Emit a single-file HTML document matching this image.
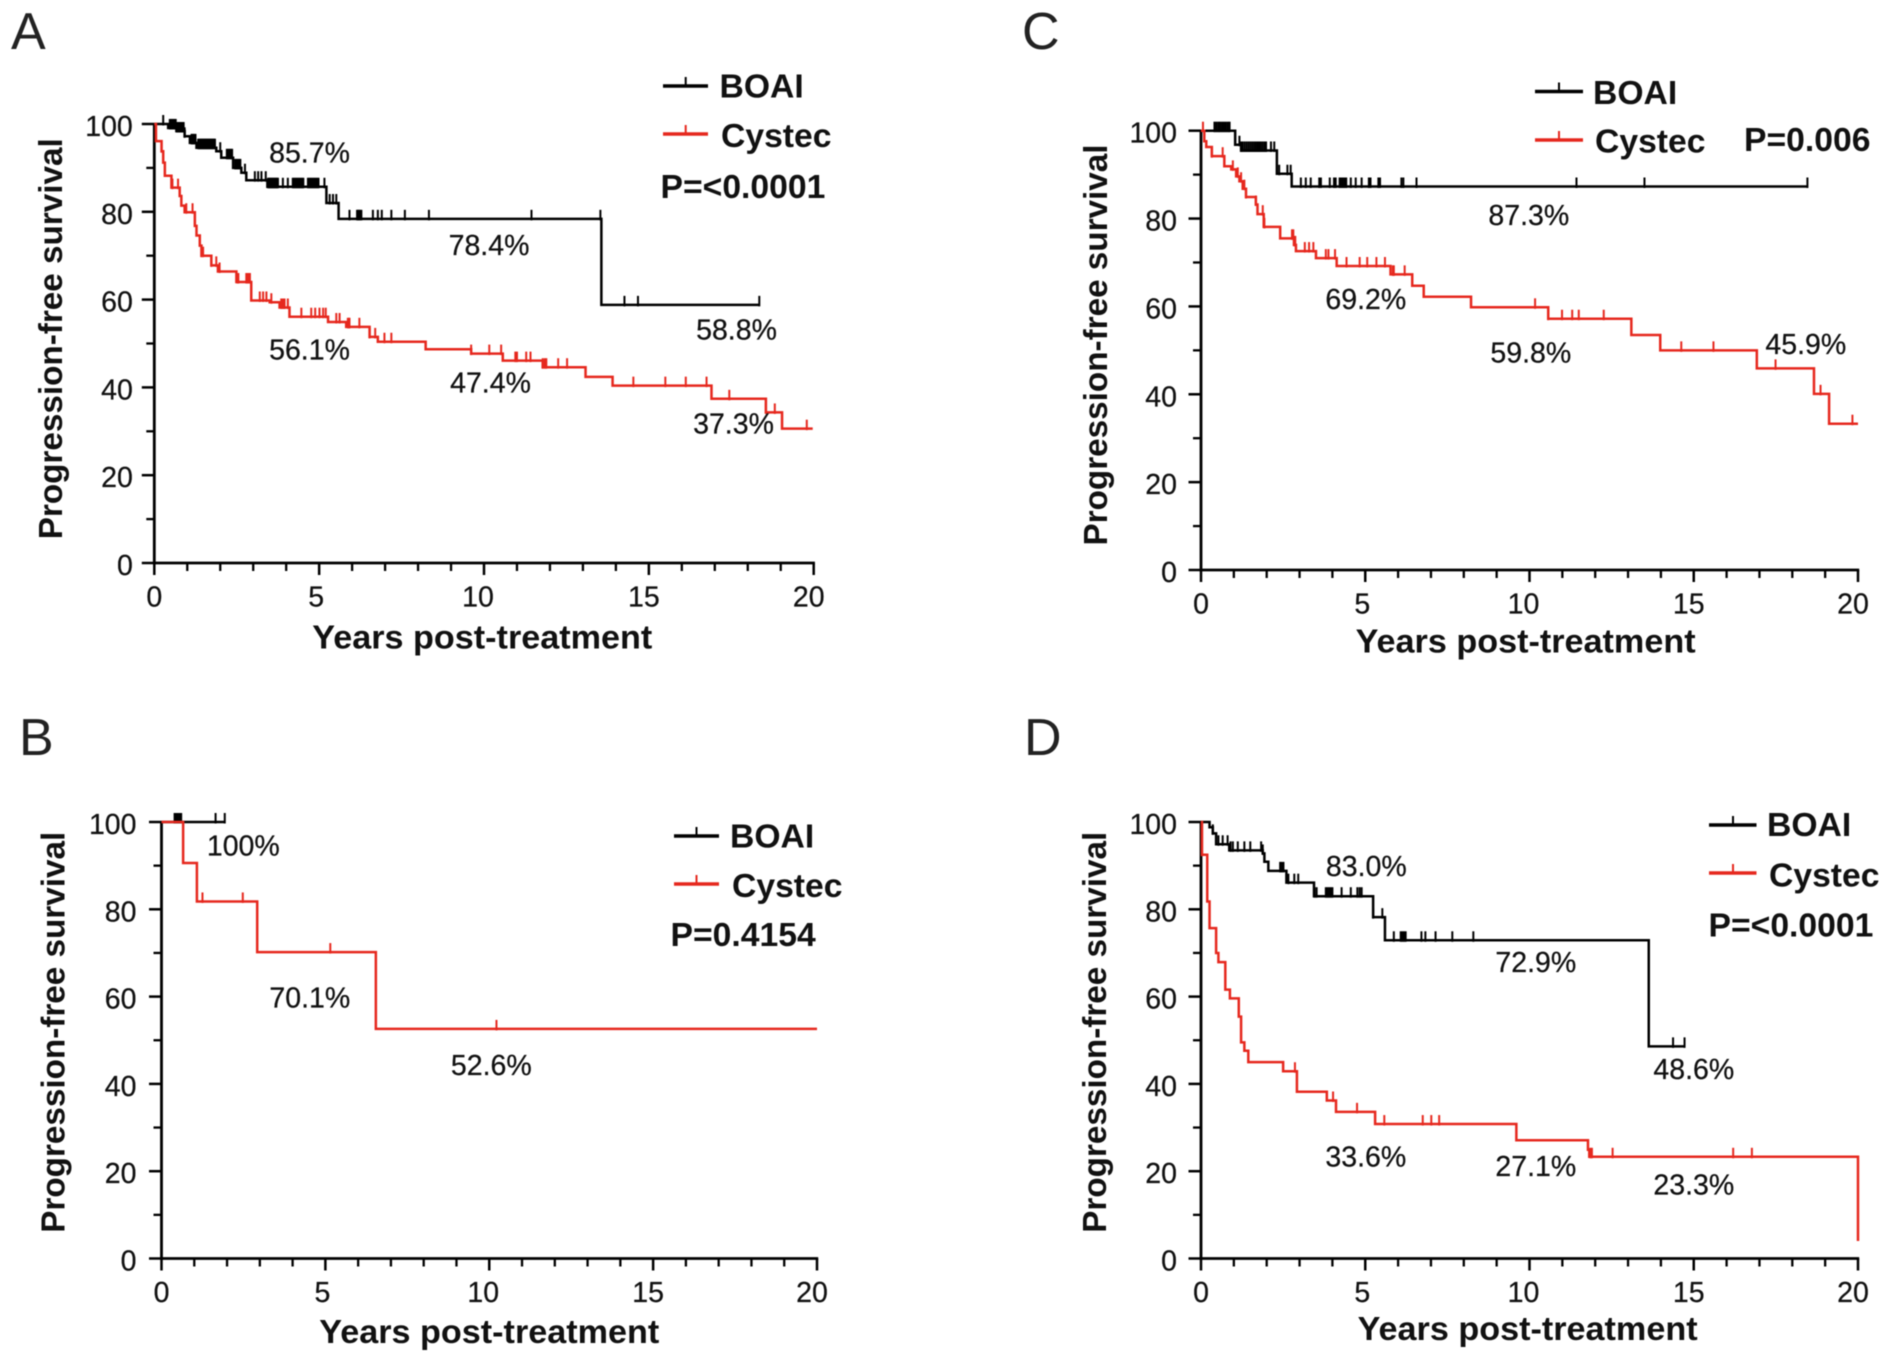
<!DOCTYPE html>
<html lang="en">
<head>
<meta charset="utf-8">
<title>Progression-free survival Kaplan-Meier curves</title>
<style>
html,body{margin:0;padding:0;background:#fff;width:1890px;height:1364px;overflow:hidden}
svg{display:block;filter:blur(0.45px)}
text{font-family:"Liberation Sans",Arial,sans-serif;fill:#111}
.stat,.tick-label{font-size:28.5px;stroke:#111;stroke-width:.25px}
.legend{font-size:33.7px;font-weight:bold}
.title{font-size:33.5px;font-weight:bold}
.letter{font-size:52px;fill:#222}
</style>
</head>
<body>
<svg id="figure" xmlns="http://www.w3.org/2000/svg" width="1890" height="1364" viewBox="0 0 1890 1364">
  <rect width="1890" height="1364" fill="#fff"/>

  <text class="letter" x="11" y="49">A</text>
  <text class="letter" x="19" y="755">B</text>
  <text class="letter" x="1022" y="49">C</text>
  <text class="letter" x="1024" y="755">D</text>

  <g id="plots"></g>

  <!-- Panel A labels -->
  <g text-anchor="middle" transform="translate(-1.5 -2.4)">
    <text class="stat" x="311" y="165">85.7%</text>
    <text class="stat" x="490.5" y="257.5">78.4%</text>
    <text class="stat" x="738" y="342">58.8%</text>
    <text class="stat" x="311" y="362">56.1%</text>
    <text class="stat" x="492" y="395">47.4%</text>
    <text class="stat" x="735" y="436">37.3%</text>
  </g>
  <g>
    <line x1="663" x2="708" y1="86" y2="86" stroke="#000" stroke-width="3.6"/>
    <line x1="685.7" x2="685.7" y1="86" y2="77" stroke="#000" stroke-width="2"/>
    <line x1="663" x2="708" y1="134" y2="134" stroke="#e6281e" stroke-width="3.6"/>
    <line x1="685.7" x2="685.7" y1="134" y2="125" stroke="#e6281e" stroke-width="2"/>
    <text class="legend" x="719.5" y="97.5">BOAI</text>
    <text class="legend" x="721" y="147">Cystec</text>
    <text class="legend" x="660.5" y="198">P=&lt;0.0001</text>
  </g>

  <!-- Panel B labels -->
  <g text-anchor="middle" transform="translate(-1.2 -1.8)">
    <text class="stat" x="244.5" y="857.5">100%</text>
    <text class="stat" x="311" y="1009.5">70.1%</text>
    <text class="stat" x="492.5" y="1077">52.6%</text>
  </g>
  <g>
    <line x1="674" x2="719" y1="836" y2="836" stroke="#000" stroke-width="3.6"/>
    <line x1="696.5" x2="696.5" y1="836" y2="827" stroke="#000" stroke-width="2"/>
    <line x1="674" x2="719" y1="884" y2="884" stroke="#e6281e" stroke-width="3.6"/>
    <line x1="696.5" x2="696.5" y1="884" y2="875" stroke="#e6281e" stroke-width="2"/>
    <text class="legend" x="730" y="847.5">BOAI</text>
    <text class="legend" x="732" y="897">Cystec</text>
    <text class="legend" x="670.5" y="946">P=0.4154</text>
  </g>

  <!-- Panel C labels -->
  <g text-anchor="middle" transform="translate(-1.2 -2)">
    <text class="stat" x="1530" y="227">87.3%</text>
    <text class="stat" x="1367" y="311">69.2%</text>
    <text class="stat" x="1532" y="364.5">59.8%</text>
    <text class="stat" x="1807" y="356">45.9%</text>
  </g>
  <g>
    <line x1="1535" x2="1583" y1="91.5" y2="91.5" stroke="#000" stroke-width="3.6"/>
    <line x1="1559" x2="1559" y1="91.5" y2="82.5" stroke="#000" stroke-width="2"/>
    <line x1="1535" x2="1583" y1="140" y2="140" stroke="#e6281e" stroke-width="3.6"/>
    <line x1="1559" x2="1559" y1="140" y2="131" stroke="#e6281e" stroke-width="2"/>
    <text class="legend" x="1593" y="104">BOAI</text>
    <text class="legend" x="1595" y="152.5">Cystec</text>
    <text class="legend" x="1744" y="151">P=0.006</text>
  </g>

  <!-- Panel D labels -->
  <g text-anchor="middle" transform="translate(-1.2 -2.4)">
    <text class="stat" x="1367.5" y="878.5">83.0%</text>
    <text class="stat" x="1537" y="974.5">72.9%</text>
    <text class="stat" x="1695" y="1081.5">48.6%</text>
    <text class="stat" x="1367" y="1169">33.6%</text>
    <text class="stat" x="1537" y="1178.5">27.1%</text>
    <text class="stat" x="1695" y="1197">23.3%</text>
  </g>
  <g>
    <line x1="1709" x2="1756.5" y1="825" y2="825" stroke="#000" stroke-width="3.6"/>
    <line x1="1733" x2="1733" y1="825" y2="816" stroke="#000" stroke-width="2"/>
    <line x1="1709" x2="1756.5" y1="873" y2="873" stroke="#e6281e" stroke-width="3.6"/>
    <line x1="1733" x2="1733" y1="873" y2="864" stroke="#e6281e" stroke-width="2"/>
    <text class="legend" x="1767" y="836">BOAI</text>
    <text class="legend" x="1769" y="886.5">Cystec</text>
    <text class="legend" x="1708.5" y="936.5">P=&lt;0.0001</text>
  </g>
</svg>

<script>
// Tick labels
const xTickLabels = [0, 5, 10, 15, 20];
const yTickLabels = [0, 20, 40, 60, 80, 100];
const xMinorValues = [1,2,3,4,6,7,8,9,11,12,13,14,16,17,18,19];
const yMinorValues = [10,30,50,70,90];

// Panel A — steps: at time t[i] survival falls to s[i]
const aBoaiTimes = [0.42,0.67,0.92,1.08,1.28,1.88,2.03,2.39,2.64,2.79,3.43,5.22,5.59,13.56,18.35];
const aBoaiSurv  = [99.1,98.4,97.2,95.7,94.6,93.8,92.3,90,88.9,87.2,85.7,82,78.4,58.8,58.8];
const aBoaiCensor = [0.27,0.47,0.5,0.53,0.56,0.59,0.62,0.65,0.68,0.71,0.74,0.77,0.8,0.83,0.86,0.89,0.92,1.13,1.17,1.2,1.25,1.33,1.36,1.39,1.42,1.45,1.48,1.51,1.54,1.57,1.6,1.63,1.66,1.69,1.72,1.75,1.78,1.81,1.84,2.0,2.2,2.24,2.28,2.32,2.36,2.45,2.49,2.53,2.57,2.61,2.75,3.05,3.15,3.25,3.38,3.45,3.48,3.51,3.54,3.57,3.6,3.63,3.66,3.69,3.72,3.75,3.9,4.05,4.2,4.24,4.28,4.32,4.36,4.4,4.44,4.48,4.52,4.66,4.7,4.74,4.78,4.82,4.86,4.9,4.94,4.98,5.16,5.32,5.42,5.52,5.92,6.15,6.18,6.21,6.24,6.28,6.63,6.78,6.9,7.19,7.6,8.33,11.44,13.53,14.26,14.67,18.35];
const aCystecTimes = [0.05,0.22,0.27,0.32,0.52,0.77,0.82,0.92,1.23,1.28,1.38,1.43,1.73,1.93,2.49,2.94,3.5,3.8,4.1,5.27,5.82,6.53,6.78,8.23,9.61,10.57,11.78,13.08,13.9,16.9,18.55,19.04,19.97];
const aCystecSurv  = [96.1,93.8,91.2,88.2,85.5,83.6,81.4,79.9,76.8,74.6,72.3,70,67.8,66.4,64,59.8,59.4,58.2,56.1,54.9,53.8,51.5,50.4,48.7,47.7,46.1,44.6,42.4,40.4,37.4,34.3,30.6,30.6];
const aCystecCensor = [0.22,0.55,0.72,0.97,1.16,1.43,1.48,1.73,1.88,1.98,2.52,2.55,2.79,2.82,2.85,2.88,2.9,3.2,3.3,3.4,3.55,3.85,3.88,3.92,3.95,4.05,4.46,4.76,4.88,5.01,5.12,5.2,5.52,5.62,5.87,5.9,5.92,6.22,6.53,6.7,6.98,7.19,9.61,10.16,10.52,10.95,11,11.28,11.41,11.78,11.84,11.89,12.25,12.52,14.53,15.5,16.12,16.75,17.44,18.55,18.82,19.79];

// Panel B
const bBoaiTimes = [1.93];
const bBoaiSurv  = [100];
const bBoaiCensor = [0.4,0.45,0.5,0.55,0.6,1.65,1.93];
const bCystecTimes = [0.66,1.08,2.92,6.54,20];
const bCystecSurv  = [90.6,81.8,70.2,52.6,52.6];
const bCystecCensor = [1.25,2.48,5.15,10.22];

// Panel C
const cBoaiTimes = [1.04,1.22,2.31,2.76,18.46];
const cBoaiSurv  = [96.8,95.5,90.2,87.3,87.3];
const cBoaiCensor = [0.41,0.47,0.53,0.58,0.64,0.7,0.76,0.82,0.87,1.17,1.22,1.27,1.33,1.39,1.45,1.51,1.57,1.63,1.69,1.75,1.81,1.87,1.93,1.98,2.13,2.23,2.38,2.63,2.73,3.04,3.19,3.34,3.6,3.65,3.92,4.05,4.1,4.22,4.27,4.32,4.37,4.42,4.56,4.71,4.89,5.11,5.16,5.4,5.45,6.1,6.16,6.56,11.43,13.5,18.46];
const cCystecTimes = [0.1,0.16,0.33,0.71,0.92,1.07,1.17,1.27,1.37,1.67,1.72,1.91,2.41,2.83,2.89,3.5,4.13,5.77,6.43,6.78,8.22,10.57,13.1,13.98,16.92,18.66,19.12,20];
const cCystecSurv  = [97.6,96.3,94.2,91.9,91.2,89.6,88.5,86.8,84.9,83.2,81,78.1,75.5,74,72.6,71,69.2,67.3,64.7,62.2,59.8,57.2,53.5,50,45.9,40.1,33.3,33.3];
const cCystecCensor = [0.06,0.33,0.66,0.97,1.12,1.22,1.32,1.37,1.67,1.88,1.93,2.77,2.81,2.85,2.87,3.16,3.29,3.42,3.8,3.88,4.08,4.43,4.83,5.06,5.34,5.6,5.84,5.87,6.2,10.17,10.57,10.99,11.3,11.5,12.26,14.62,15.6,17.49,18.86,19.83];

// Panel D
const dBoaiTimes = [0.26,0.36,0.46,0.86,1.88,1.93,2.05,2.6,3.44,5.24,5.6,13.63,14.72];
const dBoaiSurv  = [98.8,97.4,94.9,93.5,92.8,90.9,88.8,86.1,83,78.2,72.9,48.6,48.6];
const dBoaiCensor = [0.36,0.53,0.66,0.81,0.9,0.97,1.12,1.32,1.5,1.83,1.88,2.41,2.45,2.51,2.66,2.84,2.96,3.46,3.52,3.8,3.85,3.9,3.95,4,4.28,4.56,4.76,4.83,4.89,5.24,5.52,5.87,6.08,6.13,6.18,6.23,6.71,6.83,7.14,7.65,8.29,14.37,14.72];
const dCystecTimes = [0.03,0.19,0.26,0.46,0.53,0.74,0.88,1.15,1.22,1.32,1.44,2.5,2.92,3.83,4.11,5.3,9.6,11.78,11.82,20];
const dCystecSurv  = [92.5,81.8,75.7,70,67.9,61.6,59.6,55.4,49.5,47.6,45,42.9,38.2,36.2,33.6,30.8,27.1,24.9,23.3,4];
const dCystecCensor = [0.03,2.86,4.02,4.75,5.58,6.75,7.01,7.25,11.85,11.9,12.53,16.2,16.77];

// Panel geometry and series wiring
const panels = [
  {id:'a', x0:154.3, x20:813.7, y0:563,    y100:124,   labelGap:21.5, titleX:482.3,  xTitleY:648.6,  yTitleX:62,   yTitleY:338.8,  boai:[aBoaiTimes,aBoaiSurv,aBoaiCensor], cystec:[aCystecTimes,aCystecSurv,aCystecCensor]},
  {id:'b', x0:161.5, x20:817,   y0:1258.5, y100:822,   labelGap:25,   titleX:489.3,  xTitleY:1343,   yTitleX:64.5, yTitleY:1032.3, boai:[bBoaiTimes,bBoaiSurv,bBoaiCensor], cystec:[bCystecTimes,bCystecSurv,bCystecCensor]},
  {id:'c', x0:1201,  x20:1858,  y0:570,    y100:130.7, labelGap:24,   titleX:1525.6, xTitleY:652.6,  yTitleX:1107, yTitleY:345,    boai:[cBoaiTimes,cBoaiSurv,cBoaiCensor], cystec:[cCystecTimes,cCystecSurv,cCystecCensor]},
  {id:'d', x0:1201,  x20:1858,  y0:1258.5, y100:822,   labelGap:24,   titleX:1527.6, xTitleY:1339.8, yTitleX:1106, yTitleY:1032.3, boai:[dBoaiTimes,dBoaiSurv,dBoaiCensor], cystec:[dCystecTimes,dCystecSurv,dCystecCensor]}
];

const NS = 'http://www.w3.org/2000/svg';
const root = document.getElementById('plots');

function drawLine(parent, x1, y1, x2, y2, color, width, name) {
  const el = document.createElementNS(NS, 'line');
  el.setAttribute('x1', x1);
  el.setAttribute('y1', y1);
  el.setAttribute('x2', x2);
  el.setAttribute('y2', y2);
  el.setAttribute('stroke', color);
  el.setAttribute('stroke-width', width);
  
  
  parent.appendChild(el);
  return el;
}

function drawText(parent, str, x, y, anchor, cls, name) {
  const el = document.createElementNS(NS, 'text');
  el.setAttribute('x', x);
  el.setAttribute('y', y);
  el.setAttribute('text-anchor', anchor);
  el.setAttribute('class', cls);
  
  
  el.textContent = str;
  parent.appendChild(el);
  return el;
}

function survivalAt(times, surv, t) {
  let s = 100;
  for (let i = 0; i < times.length; i++) {
    if (times[i] <= t) s = surv[i];
  }
  return s;
}

function xLabelNudge(v) {
  if (v === 0) return 0;
  if (v === 5) return -3;
  if (v === 10) return -6;
  return -5;
}

function drawSeries(parent, series, xAt, yAt, color, label) {
  const times = series[0];
  const surv = series[1];
  const censor = series[2];
  const g = document.createElementNS(NS, 'g');
  
  
  parent.appendChild(g);
  let d = 'M' + xAt(0) + ' ' + yAt(100);
  for (let i = 0; i < times.length; i++) {
    d += 'H' + xAt(times[i]).toFixed(2) + 'V' + yAt(surv[i]).toFixed(2);
  }
  const path = document.createElementNS(NS, 'path');
  path.setAttribute('d', d);
  path.setAttribute('fill', 'none');
  path.setAttribute('stroke', color);
  path.setAttribute('stroke-width', '2.5');
  
  
  g.appendChild(path);
  censor.forEach(function (t) {
    const y = yAt(survivalAt(times, surv, t));
    drawLine(g, xAt(t).toFixed(2), y + 1.5, xAt(t).toFixed(2), y - 9, color, 2, label + '-censor-tick');
  });
}

panels.forEach(function (p) {
  const xAt = function (t) { return p.x0 + (p.x20 - p.x0) * t / 20; };
  const yAt = function (s) { return p.y0 - (p.y0 - p.y100) * s / 100; };
  const g = document.createElementNS(NS, 'g');
  
  
  root.appendChild(g);

  drawLine(g, p.x0, p.y100 - 1, p.x0, p.y0 + 1.4, '#000', 2.8, 'y-axis-line');
  drawLine(g, p.x0 - 1.4, p.y0, p.x20 + 1.2, p.y0, '#000', 2.8, 'x-axis-line');

  xTickLabels.forEach(function (v) {
    drawLine(g, xAt(v), p.y0, xAt(v), p.y0 + 12, '#000', 2.5, 'x-major-tick');
    drawText(g, String(v), xAt(v) + xLabelNudge(v), p.y0 + 43.5, 'middle', 'tick-label', 'x-tick-label');
  });
  xMinorValues.forEach(function (v) {
    drawLine(g, xAt(v), p.y0, xAt(v), p.y0 + 8, '#000', 2.3, 'x-minor-tick');
  });
  yTickLabels.forEach(function (v) {
    drawLine(g, p.x0 - 12.5, yAt(v), p.x0, yAt(v), '#000', 2.5, 'y-major-tick');
    drawText(g, String(v), p.x0 - p.labelGap, yAt(v) + 12, 'end', 'tick-label', 'y-tick-label');
  });
  yMinorValues.forEach(function (v) {
    drawLine(g, p.x0 - 8, yAt(v), p.x0, yAt(v), '#000', 2.3, 'y-minor-tick');
  });

  const xTitle = drawText(g, 'Years post-treatment', p.titleX, p.xTitleY, 'middle', 'title', 'x-axis-title');
  xTitle.setAttribute('textLength', '340');
  xTitle.setAttribute('lengthAdjust', 'spacingAndGlyphs');
  const yTitle = drawText(g, 'Progression-free survival', 0, 0, 'middle', 'title', 'y-axis-title');
  yTitle.setAttribute('textLength', '401');
  yTitle.setAttribute('lengthAdjust', 'spacingAndGlyphs');
  yTitle.setAttribute('transform', 'translate(' + p.yTitleX + ' ' + p.yTitleY + ') rotate(-90)');

  drawSeries(g, p.boai, xAt, yAt, '#000', 'boai');
  drawSeries(g, p.cystec, xAt, yAt, '#e6281e', 'cystec');
});
</script>
</body>
</html>
